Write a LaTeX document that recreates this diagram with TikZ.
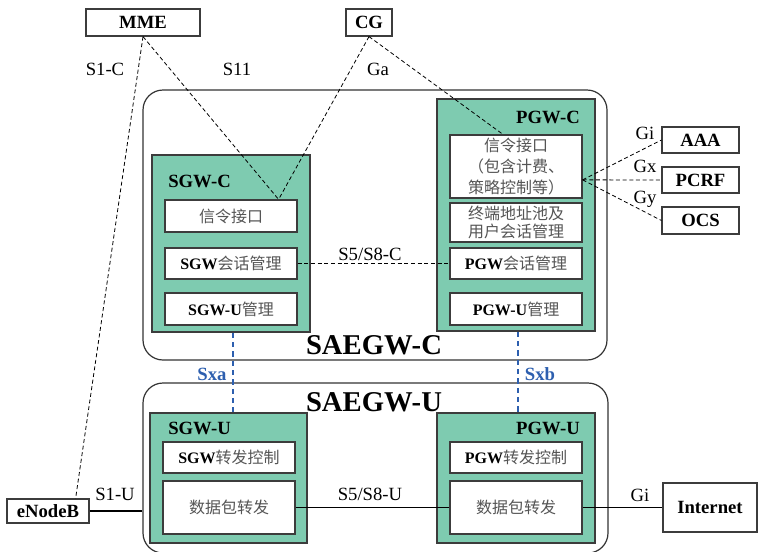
\documentclass[tikz,border=0pt]{standalone}
\usepackage{fontspec}
\setmainfont{Liberation Serif}
\newfontfamily\cjkfont{Noto Sans CJK SC}
\usetikzlibrary{calc}
\definecolor{gwgreen}{RGB}{126,203,176}
\definecolor{edgegray}{RGB}{60,60,60}
\definecolor{sxblue}{RGB}{45,95,175}
\definecolor{zhgray}{RGB}{85,85,85}
\newcommand{\zh}[1]{{\cjkfont\color{zhgray}#1}}

\begin{document}
\begin{tikzpicture}[x=0.75pt,y=-0.75pt,
  ext/.style={draw=edgegray, line width=0.9pt, fill=white, inner sep=0pt,
    font=\fontsize{14}{16}\selectfont\bfseries},
  outer/.style={draw=black!80, line width=0.9pt, rounded corners=15pt, fill=white, inner sep=0pt},
  gw/.style={draw=edgegray, line width=1.2pt, fill=gwgreen, inner sep=0pt},
  func/.style={draw=edgegray, line width=0.9pt, fill=white, inner sep=0pt,
    font=\fontsize{12}{15.5}\selectfont, align=center, minimum width=99pt},
  lbl/.style={font=\fontsize{14}{16}\selectfont, inner sep=1pt},
  ttl/.style={font=\fontsize{14}{16}\selectfont\bfseries, inner sep=0pt},
  big/.style={font=\fontsize{21.5}{24}\selectfont\bfseries, inner sep=0pt},
  sig/.style={dash pattern=on 3pt off 2pt, line width=0.6pt},
  dataln/.style={line width=1.1pt},
  sx/.style={draw=sxblue, dash pattern=on 4pt off 3pt, line width=1.1pt},
  sxlbl/.style={font=\fontsize{14}{16}\selectfont\bfseries, text=sxblue, inner sep=1pt}]
\useasboundingbox (0,0) rectangle (760,551);

% external network elements
\node[ext, minimum width=85.5pt, minimum height=20.25pt] (mme) at (143,22.5) {MME};
\node[ext, minimum width=34.5pt, minimum height=20.25pt] (cg) at (369,22.5) {CG};
\node[ext, minimum width=57.75pt, minimum height=19.5pt] (aaa) at (700.5,140) {AAA};
\node[ext, minimum width=57.75pt, minimum height=19.5pt] (pcrf) at (700.5,180) {PCRF};
\node[ext, minimum width=57.75pt, minimum height=20.25pt] (ocs) at (700.5,220.5) {OCS};
\node[ext, minimum width=70.5pt, minimum height=36.75pt] (inet) at (710,507.5) {Internet};
\node[ext, minimum width=61.5pt, minimum height=18pt] (enb) at (48,511) {eNodeB};

% control plane gateway
\node[outer, minimum width=348pt, minimum height=202.5pt] (saegwc) at (375,225) {};
\node[big] (saegwcl) at (374,345) {SAEGW-C};

\node[gw, minimum width=118.5pt, minimum height=132.75pt] (sgwc) at (231,243.5) {};
\node[ttl, anchor=west] (sgwct) at (168,181) {SGW-C};
\node[func, minimum height=24pt] (s1) at (231,216) {\zh{信令接口}};
\node[func, minimum height=23.25pt] (s2) at (231,263.5) {\textbf{SGW}\zh{会话管理}};
\node[func, minimum height=24pt] (s3) at (231,309) {\textbf{SGW-U}\zh{管理}};

\node[gw, minimum width=118.5pt, minimum height=174pt] (pgwc) at (516,215) {};
\node[ttl, anchor=east] (pgwct) at (580,117) {PGW-C};
\node[func, minimum height=47.25pt] (p1) at (516,166.5) {\zh{信令接口}\\\zh{（包含计费、}\\\zh{策略控制等）}};
\node[func, minimum height=29.25pt, font=\fontsize{12}{14}\selectfont] (p2) at (516,222.5) {\zh{终端地址池及}\\\zh{用户会话管理}};
\node[func, minimum height=23.25pt] (p3) at (516,263.5) {\textbf{PGW}\zh{会话管理}};
\node[func, minimum height=24pt] (p4) at (516,309) {\textbf{PGW-U}\zh{管理}};

% user plane gateway
\node[outer, minimum width=348.75pt, minimum height=127.5pt] (saegwu) at (375.5,468) {};
\node[big] (saegwul) at (374,402) {SAEGW-U};

\node[gw, minimum width=117.75pt, minimum height=97.5pt] (sgwu) at (228.5,478) {};
\node[ttl, anchor=west] (sgwut) at (168,428) {SGW-U};
\node[func, minimum height=23.25pt] (sc) at (229,457.5) {\textbf{SGW}\zh{转发控制}};
\node[func, minimum height=39.75pt] (sd) at (229,507.5) {\zh{数据包转发}};

\node[gw, minimum width=118.5pt, minimum height=97.5pt] (pgwu) at (516,478) {};
\node[ttl, anchor=east] (pgwut) at (580,428) {PGW-U};
\node[func, minimum height=23.25pt] (pc) at (516,457.5) {\textbf{PGW}\zh{转发控制}};
\node[func, minimum height=39.75pt] (pd) at (516,507.5) {\zh{数据包转发}};

% signalling interfaces
\draw[sig] (mme.south) -- ([xshift=-14.25pt]s1.north east);
\draw[sig] (cg.south) -- ([xshift=-14.25pt]s1.north east);
\draw[sig] (cg.south) -- ([xshift=-9.75pt]p1.north);
\draw[sig] (mme.south) -- ([xshift=-10.5pt]enb.north east);
\draw[sig] ([yshift=-10pt]p1.east) -- (aaa.west);
\draw[sig] ([yshift=-10pt]p1.east) -- (pcrf.west);
\draw[sig] ([yshift=-10pt]p1.east) -- (ocs.west);
\draw[sig] (s2.east) -- (p3.west);

% control/user plane split
\draw[sx] ([xshift=1.5pt]sgwc.south) -- ([xshift=1.5pt]sgwc.south |- sgwu.north);
\draw[sx] ([xshift=1.5pt]pgwc.south) -- ([xshift=1.5pt]pgwc.south |- pgwu.north);

% user plane links
\draw[dataln] (enb.east) -- (enb.east -| saegwu.west);
\draw[dataln] (sd.east) -- (pd.west);
\draw[dataln] (pd.east) -- (inet.west);

% interface labels
\node[lbl] (ls1c) at (105,69) {S1-C};
\node[lbl] (ls11) at (237,69) {S11};
\node[lbl] (lga) at (378,69) {Ga};
\node[lbl] (lgi) at (645,133) {Gi};
\node[lbl] (lgx) at (645,166) {Gx};
\node[lbl] (lgy) at (645,199) {Gy};
\node[lbl] (ls58c) at (370,254) {S5/S8-C};
\node[lbl] (ls1u) at (115,494) {S1-U};
\node[lbl] (ls58u) at (370,494) {S5/S8-U};
\node[lbl] (lgiu) at (640,495) {Gi};
\node[sxlbl] (lsxa) at (212,374) {Sxa};
\node[sxlbl] (lsxb) at (540,374) {Sxb};
\end{tikzpicture}
\end{document}
